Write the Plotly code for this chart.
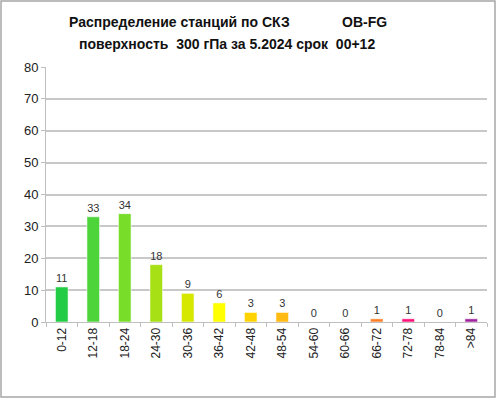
import plotly.graph_objects as go

categories = ["0-12", "12-18", "18-24", "24-30", "30-36", "36-42", "42-48",
              "48-54", "54-60", "60-66", "66-72", "72-78", "78-84", ">84"]
values = [11, 33, 34, 18, 9, 6, 3, 3, 0, 0, 1, 1, 0, 1]
bar_colors = ["#22CC44", "#4CD43A", "#77DD28", "#A8E016", "#D6E800", "#FFFF00",
              "#FFD300", "#FFBB11", "#FF9F00", "#FF8F10", "#FF7F27", "#FF1177",
              "#C03090", "#A0209F"]
y_ticks = [0, 10, 20, 30, 40, 50, 60, 70, 80]

FONT = "Liberation Sans"

fig = go.Figure()
fig.add_trace(go.Bar(
    x=categories, y=values,
    marker=dict(color=bar_colors, line=dict(color="rgba(255,255,255,0.55)", width=1)),
    text=[str(v) for v in values], textposition="outside",
    textfont=dict(family=FONT, size=11, color="#333333"),
    cliponaxis=False,
))

fig.update_layout(
    width=496, height=399,
    margin=dict(l=46, r=9, t=67, b=77),
    paper_bgcolor="white", plot_bgcolor="white",
    showlegend=False,
    bargap=0.6,
    font=dict(family=FONT, color="#222222"),
)
fig.update_xaxes(
    type="category", tickangle=-90, tickfont=dict(family=FONT, size=12, color="#222222"),
    showline=True, linecolor="#BFBFBF", linewidth=1,
    ticks="outside", tickson="boundaries", ticklen=4, tickcolor="#BFBFBF",
    showgrid=False,
)
fig.update_yaxes(
    range=[0, 80], tickvals=y_ticks, tickfont=dict(family=FONT, size=13, color="#222222"),
    showline=True, linecolor="#BFBFBF", linewidth=1,
    ticks="outside", ticklen=4, tickcolor="#BFBFBF",
    showgrid=True, gridcolor="#C8C8C8", gridwidth=1.5, zeroline=False,
)

title_font = dict(family=FONT, size=14, color="#111111")
fig.add_annotation(text="<b>Распределение станций по СКЗ</b>", xref="paper", yref="paper",
                   x=(179 - 46) / 441, y=(322 - 22) / 255, showarrow=False,
                   xanchor="center", yanchor="middle", font=title_font)
fig.add_annotation(text="<b>OB-FG</b>", xref="paper", yref="paper",
                   x=(364 - 46) / 441, y=(322 - 22) / 255, showarrow=False,
                   xanchor="center", yanchor="middle", font=title_font)
fig.add_annotation(text="<b>поверхность  300 гПа за 5.2024 срок  00+12</b>", xref="paper", yref="paper",
                   x=(227 - 46) / 441, y=(322 - 44) / 255, showarrow=False,
                   xanchor="center", yanchor="middle", font=title_font)

fig.add_shape(type="rect", xref="paper", yref="paper",
              x0=(1 - 46) / 441, x1=(495 - 46) / 441,
              y0=(322 - 397) / 255, y1=(322 - 1) / 255,
              line=dict(color="#A6A6A6", width=1.5), fillcolor="rgba(0,0,0,0)", layer="below")

fig.write_html("out.html", config={"displayModeBar": False},
               post_script="document.body.style.margin='0';document.body.style.overflow='hidden';")
